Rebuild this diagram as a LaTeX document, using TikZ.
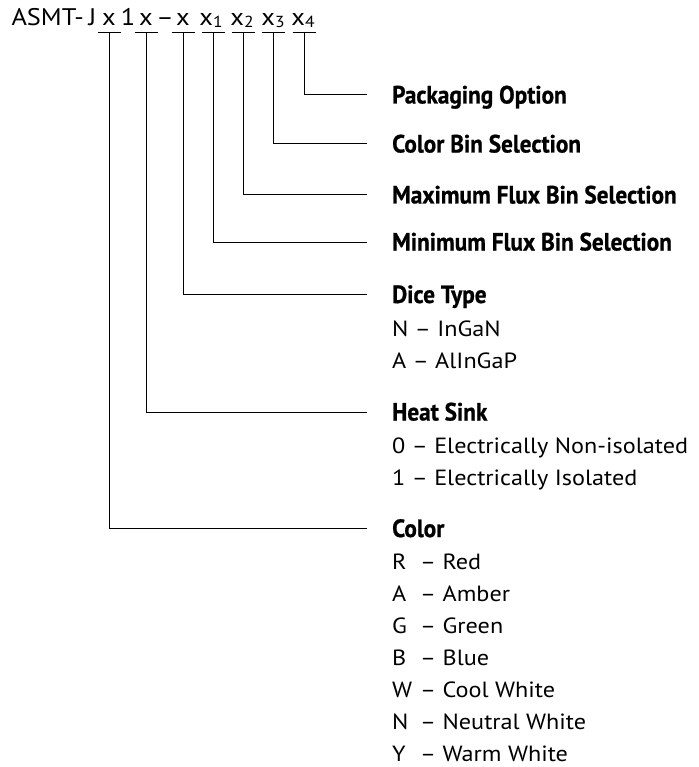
\documentclass[tikz,border=0pt]{standalone}
\usepackage{fontspec}
\setmainfont[FakeStretch=1.1]{PT Sans}
\newfontfamily\headfont[FakeStretch=0.93, FakeBold=0.8]{PT Sans}
\usetikzlibrary{positioning}

\newcommand{\sbx}[1]{{\fontsize{16}{16}\selectfont\raisebox{-1.5pt}{#1}}}
\newcommand{\optletter}[1]{\makebox[28pt][l]{#1}}

\begin{document}
\begin{tikzpicture}[x=1pt, y=-1pt,
        codenode/.style={inner sep=0pt, anchor=base, font=\fontsize{24}{24}\selectfont},
        headnode/.style={inner sep=0pt, anchor=base west, font=\headfont\bfseries\fontsize{25}{25}\selectfont},
        optnode/.style={inner sep=0pt, anchor=base west, font=\fontsize{22}{22}\selectfont},
        leader/.style={draw=black, line width=1pt}]

    \useasboundingbox (0,0) rectangle (698,767);

    % part number
    \node[codenode, anchor=base east] (pre) at (84,26) {ASMT-};
    \node[codenode] (j) at (92.5,26) {J};
    \node[codenode] (c1) at (109,26) {x};
    \node[codenode] (one) at (128,26) {1};
    \node[codenode] (c2) at (146,26) {x};
    \node[codenode] (dash) at (165,26) {--};
    \node[codenode] (c3) at (183,26) {x};
    \node[codenode] (c4) at (211,26) {x\sbx{1}};
    \node[codenode] (c5) at (242,26) {x\sbx{2}};
    \node[codenode] (c6) at (273,26) {x\sbx{3}};
    \node[codenode] (c7) at (303,26) {x\sbx{4}};

    % bars under the code letters
    \coordinate (b1) at (109,33);
    \coordinate (b2) at (146,33);
    \coordinate (b3) at (183,33);
    \coordinate (b4) at (213,33);
    \coordinate (b5) at (243,33);
    \coordinate (b6) at (273,33);
    \coordinate (b7) at (304,33);
    \foreach \b in {b1,b2,b3,b4,b5,b6,b7}
        \draw[leader] ([xshift=-11.5pt]\b) -- ([xshift=11.5pt]\b);

    % headings
    \node[headnode] (pack) at (392,103.5) {Packaging Option};
    \node[headnode] (cbin) at (392,152.5) {Color Bin Selection};
    \node[headnode] (maxf) at (392,203.5) {Maximum Flux Bin Selection};
    \node[headnode] (minf) at (392,250.5) {Minimum Flux Bin Selection};
    \node[headnode] (dice) at (392,303) {Dice Type};
    \node[headnode] (heat) at (392,420.5) {Heat Sink};
    \node[headnode] (col) at (392,537) {Color};

    % options
    \node[optnode] (dice1) at ([yshift=-33pt]dice.base west) {N -- InGaN};
    \node[optnode] (dice2) at ([yshift=-32pt]dice1.base west) {A -- AlInGaP};
    \node[optnode] (heat1) at ([yshift=-33pt]heat.base west) {0 -- Electrically Non-isolated};
    \node[optnode] (heat2) at ([yshift=-32pt]heat1.base west) {1 -- Electrically Isolated};
    \node[optnode] (col1) at ([yshift=-32pt]col.base west) {\optletter{R}-- Red};
    \node[optnode] (col2) at ([yshift=-32pt]col1.base west) {\optletter{A}-- Amber};
    \node[optnode] (col3) at ([yshift=-32pt]col2.base west) {\optletter{G}-- Green};
    \node[optnode] (col4) at ([yshift=-32pt]col3.base west) {\optletter{B}-- Blue};
    \node[optnode] (col5) at ([yshift=-32pt]col4.base west) {\optletter{W}-- Cool White};
    \node[optnode] (col6) at ([yshift=-32pt]col5.base west) {\optletter{N}-- Neutral White};
    \node[optnode] (col7) at ([yshift=-32pt]col6.base west) {\optletter{Y}-- Warm White};

    % leaders
    \draw[leader] (b7) |- ([shift={(-25pt,8.5pt)}]pack.base west);
    \draw[leader] (b6) |- ([shift={(-25pt,8.5pt)}]cbin.base west);
    \draw[leader] (b5) |- ([shift={(-25pt,8.5pt)}]maxf.base west);
    \draw[leader] (b4) |- ([shift={(-25pt,8.5pt)}]minf.base west);
    \draw[leader] (b3) |- ([shift={(-25pt,8.5pt)}]dice.base west);
    \draw[leader] (b2) |- ([shift={(-25pt,8.5pt)}]heat.base west);
    \draw[leader] (b1) |- ([shift={(-25pt,8.5pt)}]col.base west);

\end{tikzpicture}
\end{document}
